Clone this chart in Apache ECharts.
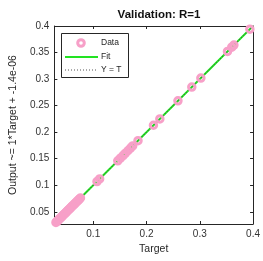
<!DOCTYPE html>
<html><head><meta charset="utf-8">
<script src="https://cdn.jsdelivr.net/npm/echarts@6/dist/echarts.min.js"></script>
<style>html,body{margin:0;padding:0;background:#fff}#c{width:263px;height:261px}</style>
</head><body><div id="c"></div>
<script>
const targets = [0.030,0.032,0.034,0.036,0.038,0.040,0.042,0.044,0.046,0.048,0.050,0.052,0.054,0.056,0.058,0.060,0.062,0.064,0.066,0.068,0.070,0.072,0.074,0.076,
  0.107,0.112,0.146,0.151,0.156,0.160,0.165,0.170,0.174,0.184,0.213,0.225,0.259,0.285,0.302,0.352,0.360,0.364,0.394];
const outputs = [0.030,0.032,0.034,0.036,0.038,0.040,0.042,0.044,0.046,0.048,0.050,0.052,0.054,0.056,0.058,0.060,0.062,0.064,0.066,0.068,0.070,0.072,0.074,0.076,
  0.107,0.112,0.146,0.151,0.156,0.160,0.165,0.170,0.174,0.184,0.213,0.225,0.259,0.285,0.302,0.352,0.360,0.364,0.394];
const axisMin = 0.027, axisMax = 0.4;
const xTicks = [0.1,0.2,0.3,0.4];
const yTicks = [0.05,0.1,0.15,0.2,0.25,0.3,0.35,0.4];
const fitSlope = 1, fitIntercept = -1.4e-06;
const legendNames = ['Data','Fit','Y = T'];

const font = '"Liberation Sans", Arial, sans-serif';
const axCol = '#262626';
const pink = '#f7a0c8', green = '#22e322';
function fmt(v){ return String(+v.toFixed(2)); }
function axis(pos, ticks, showLabel, extra){
  return Object.assign({
    type:'value', min:axisMin, max:axisMax, position:pos,
    axisLine:{show:true, onZero:false, lineStyle:{color:axCol, width:1}},
    axisTick:{show:true, inside:true, length:3, customValues:ticks, lineStyle:{color:axCol}},
    axisLabel:{show:showLabel, customValues:ticks, formatter:fmt, color:'#333', fontSize:10, fontFamily:font, margin:5},
    splitLine:{show:false}
  }, extra||{});
}
const chart = echarts.init(document.getElementById('c'), null, {renderer:'canvas'});
const pts = targets.map((t,i)=>[t, outputs[i]]);
const lx = 61, ly = 33;
chart.setOption({
  animation:false,
  title:{text:'Validation: R=1', left:154, textAlign:'center', top:4,
    textStyle:{fontSize:11.5, fontWeight:'bold', color:'#111', fontFamily:font}},
  grid:{left:52, right:9, top:26, bottom:37},
  xAxis:[axis('bottom', xTicks, true, {name:'Target', nameLocation:'middle', nameGap:19,
            nameTextStyle:{fontSize:10.5, color:axCol, fontFamily:font}}),
         axis('top', xTicks, false)],
  yAxis:[axis('left', yTicks, true, {name:'Output ~= 1*Target + -1.4e-06', nameLocation:'middle', nameGap:27,
            nameTextStyle:{fontSize:10.5, color:axCol, fontFamily:font}}),
         axis('right', yTicks, false)],
  graphic:[
    {type:'rect', shape:{x:lx+0.5, y:ly+0.5, width:67, height:44}, style:{fill:'#fff', stroke:axCol, lineWidth:1}, z:10},
    {type:'circle', shape:{cx:lx+20, cy:ly+10, r:3.3}, style:{fill:'#fff', stroke:pink, lineWidth:3}, z:11},
    {type:'line', shape:{x1:lx+4, y1:ly+24, x2:lx+37, y2:ly+24}, style:{stroke:green, lineWidth:2}, z:11},
    {type:'line', shape:{x1:lx+4, y1:ly+37, x2:lx+37, y2:ly+37}, style:{stroke:'#555', lineWidth:1, lineDash:[1,2]}, z:11},
    {type:'text', x:lx+40, y:ly+10, style:{text:legendNames[0], font:'8.5px '+font, fill:axCol, textVerticalAlign:'middle'}, z:11},
    {type:'text', x:lx+40, y:ly+24, style:{text:legendNames[1], font:'8.5px '+font, fill:axCol, textVerticalAlign:'middle'}, z:11},
    {type:'text', x:lx+40, y:ly+37, style:{text:legendNames[2], font:'8.5px '+font, fill:axCol, textVerticalAlign:'middle'}, z:11}
  ],
  series:[
    {name:'Fit', type:'line', data:[[axisMin, fitSlope*axisMin+fitIntercept],[axisMax, fitSlope*axisMax+fitIntercept]],
      symbol:'none', lineStyle:{color:green, width:2}, z:2},
    {name:'Y = T', type:'line', data:[[axisMin,axisMin],[axisMax,axisMax]],
      symbol:'none', lineStyle:{color:'#444', width:1, type:[1,2]}, z:3},
    {name:'Data', type:'scatter', data:pts, symbol:'circle', symbolSize:6.5,
      itemStyle:{color:'rgba(0,0,0,0)', borderColor:pink, borderWidth:3, opacity:1}, z:4}
  ]
});
</script></body></html>
